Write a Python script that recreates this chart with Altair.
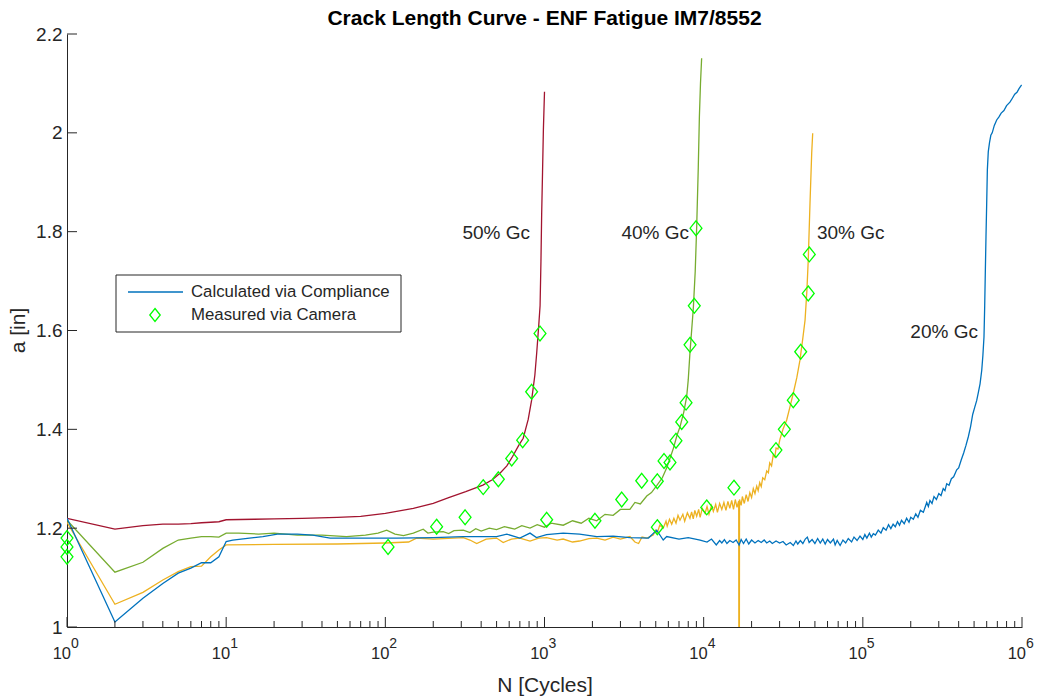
import altair as alt
import pandas as pd

# ---------------- data ----------------
RED_N = [1, 2, 3, 4, 5, 6, 7, 8, 9, 10, 15, 20, 30, 50, 70, 100, 150, 200, 250, 320, 410, 470, 525, 580,
         630, 690, 735, 790, 830, 870, 893, 920, 938, 950, 960, 972, 984, 1000]
RED_A = [1.220, 1.198, 1.205, 1.208, 1.208, 1.209, 1.211, 1.212, 1.213, 1.217, 1.218, 1.219, 1.220, 1.222,
         1.224, 1.230, 1.240, 1.250, 1.262, 1.274, 1.287, 1.298, 1.311, 1.326, 1.345, 1.368, 1.382, 1.420,
         1.459, 1.510, 1.554, 1.610, 1.650, 1.740, 1.837, 1.920, 2.006, 2.083]

GREEN_N = [1, 2, 3, 4, 5, 6, 7, 8, 9, 10, 12, 16, 20, 28, 40, 57, 75, 90, 102, 115, 130, 150, 173, 185,
           200, 231, 250, 270, 309, 340, 370, 400, 450, 500, 560, 650, 720, 811, 900, 1000, 1100, 1312,
           1500, 1700, 1900, 2128, 2400, 2700, 3000, 3440, 3700, 4000, 4390, 4700, 5070, 5500, 5860, 6200,
           6460, 6800, 7100, 7500, 7820, 8000, 8200, 8610, 8850, 9040, 9250, 9400, 9550, 9710]
GREEN_A = [1.216, 1.111, 1.131, 1.159, 1.176, 1.180, 1.183, 1.183, 1.182, 1.190, 1.190, 1.188, 1.190,
           1.186, 1.186, 1.183, 1.186, 1.190, 1.196, 1.188, 1.185, 1.190, 1.198, 1.190, 1.192, 1.193,
           1.189, 1.195, 1.196, 1.191, 1.199, 1.194, 1.200, 1.197, 1.203, 1.198, 1.205, 1.200, 1.207,
           1.202, 1.210, 1.206, 1.215, 1.210, 1.220, 1.215, 1.228, 1.226, 1.238, 1.238, 1.252, 1.249,
           1.265, 1.272, 1.286, 1.302, 1.322, 1.345, 1.362, 1.388, 1.405, 1.435, 1.466, 1.500, 1.555,
           1.645, 1.720, 1.810, 1.930, 2.033, 2.100, 2.151]

ORANGE_N = [1, 2, 3, 4, 5, 6, 7, 8, 9, 10, 20, 50, 100, 140, 157, 200, 309, 340, 375, 430, 500, 550, 620,
            700, 811, 920, 1030, 1200, 1310, 1500, 1660, 1900, 2130, 2400, 2700, 3000, 3440, 3700, 3900,
            4100, 4400, 4820, 5000, 5100, 5300, 5570, 5800, 5900, 6100, 6300, 6500, 6700, 6900, 7100, 7400,
            7600, 7900, 8200, 8400, 8600, 8800, 9040, 9300, 9500, 9800, 10200, 10500, 10800, 11200, 11500,
            11900, 12200, 12600, 13000, 13400, 13800, 14200, 14600, 15000, 15400, 15800, 16200, 16600,
            16700, 16800, 17200, 17500, 18000, 18500, 19000, 19500, 20000, 20500, 21000, 21540, 22000,
            22500, 23000, 23500, 24200, 24900, 25500, 26000, 26700, 27350, 28000, 28500, 29300, 30150,
            31500, 33240, 35000, 36560, 38500, 40270, 42000, 43350, 44500, 45410, 46560, 47730, 48420]
ORANGE_A = [1.212, 1.046, 1.070, 1.095, 1.112, 1.122, 1.123, 1.142, 1.156, 1.166, 1.167, 1.168, 1.170,
            1.172, 1.180, 1.178, 1.181, 1.176, 1.169, 1.178, 1.180, 1.171, 1.178, 1.180, 1.174, 1.180,
            1.181, 1.176, 1.178, 1.172, 1.174, 1.179, 1.180, 1.176, 1.182, 1.178, 1.183, 1.172, 1.169,
            1.182, 1.180, 1.186, 1.196, 1.190, 1.206, 1.200, 1.214, 1.204, 1.218, 1.208, 1.220, 1.210,
            1.226, 1.216, 1.228, 1.214, 1.231, 1.220, 1.233, 1.219, 1.236, 1.224, 1.238, 1.222, 1.240,
            1.230, 1.244, 1.228, 1.246, 1.234, 1.248, 1.232, 1.250, 1.238, 1.252, 1.236, 1.254, 1.240,
            1.256, 1.238, 1.258, 1.242, 1.255, 0.500, 1.258, 1.246, 1.264, 1.250, 1.268, 1.254, 1.272,
            1.262, 1.280, 1.270, 1.285, 1.276, 1.292, 1.284, 1.302, 1.298, 1.316, 1.312, 1.332, 1.326,
            1.348, 1.344, 1.362, 1.360, 1.380, 1.400, 1.419, 1.448, 1.473, 1.505, 1.540, 1.585, 1.621,
            1.680, 1.743, 1.857, 1.959, 1.999]

BLUE_N = [1, 2, 3, 4, 5, 6, 7, 8, 9, 10, 11, 14, 17, 21, 28, 35, 45, 72, 118, 200, 309, 500, 580, 700,
          811, 890, 1030, 1310, 1660, 2130, 2700, 3440, 4500, 5070, 5570, 5860, 7000, 8000, 9500,
          10500, 11200, 12000, 12600, 13000, 13500, 14000, 14600, 15300, 16000, 16700, 17200, 17800,
          18500, 19200, 20000, 21000, 22000, 23000, 24000, 24900, 26000, 27000, 28500, 30000, 31500,
          33000, 35000, 36600, 38000, 39000, 40500, 42000, 43500, 44800, 46000, 48000, 50000, 52000,
          54000, 56000, 58000, 60000, 62500, 65400, 67000, 69000, 72000, 75000, 78000, 81000, 85000,
          88000, 92000, 96000, 100000, 103000, 106000, 110000, 113000, 116400, 120000, 125000, 130000,
          134400, 140000, 145000, 150000, 155000, 160000, 165000, 170000, 175000, 182000, 188400,
          195000, 200000, 207700, 215000, 222000, 230000, 240000, 252000, 258000, 264000, 272000,
          280000, 290000, 300000, 310000, 320000, 328000, 336500, 348000, 360000, 372000, 388800,
          400000, 415000, 430000, 445000, 460000, 475000, 490000, 505000, 519000, 532000, 545000,
          558800, 568000, 577000, 583000, 588500, 594000, 600000, 605800, 614000, 625000, 637000,
          650000, 670000, 693400, 715000, 740000, 770000, 800000, 840000, 870000, 900000, 930000,
          960000, 995000]
BLUE_A = [1.220, 1.010, 1.058, 1.088, 1.109, 1.119, 1.130, 1.130, 1.142, 1.173, 1.176, 1.180, 1.183,
          1.188, 1.188, 1.186, 1.180, 1.180, 1.180, 1.181, 1.183, 1.183, 1.188, 1.180, 1.190, 1.181,
          1.187, 1.190, 1.188, 1.183, 1.184, 1.181, 1.180, 1.196, 1.176, 1.183, 1.178, 1.181, 1.176,
          1.172, 1.178, 1.166, 1.175, 1.170, 1.177, 1.169, 1.175, 1.171, 1.176, 1.166, 1.177, 1.169,
          1.178, 1.168, 1.176, 1.170, 1.175, 1.171, 1.176, 1.170, 1.174, 1.169, 1.174, 1.170, 1.173,
          1.166, 1.171, 1.165, 1.174, 1.168, 1.175, 1.169, 1.178, 1.182, 1.171, 1.177, 1.169, 1.179,
          1.170, 1.178, 1.168, 1.177, 1.170, 1.178, 1.166, 1.175, 1.165, 1.176, 1.170, 1.179, 1.172,
          1.182, 1.175, 1.184, 1.177, 1.187, 1.180, 1.190, 1.182, 1.189, 1.186, 1.196, 1.190,
          1.201, 1.196, 1.207, 1.199, 1.208, 1.203, 1.213, 1.206, 1.216, 1.209, 1.220,
          1.212, 1.222, 1.218, 1.229, 1.222, 1.236, 1.232, 1.252, 1.244, 1.256, 1.250,
          1.264, 1.258, 1.270, 1.266, 1.280, 1.276, 1.290, 1.287, 1.300, 1.304, 1.318,
          1.322, 1.338, 1.352, 1.368, 1.385, 1.405, 1.430, 1.445, 1.458, 1.475, 1.492,
          1.520, 1.550, 1.587, 1.650, 1.722, 1.790, 1.857, 1.925, 1.962, 1.980, 1.995,
          2.000, 2.015, 2.026, 2.032, 2.040, 2.045, 2.055, 2.062, 2.070, 2.078, 2.082,
          2.090, 2.097]

CAM_N = [1, 1, 1, 104, 210, 317, 412, 513, 622, 729, 830, 937, 1032, 2075, 3055, 4080, 5115, 5115, 5635,
         6144, 6700, 7280, 7750, 8210, 8730, 8950, 10450, 15500, 28450, 32120, 36560, 40700, 45400, 46100]
CAM_A = [1.180, 1.162, 1.142, 1.162, 1.203, 1.222, 1.283, 1.299, 1.341, 1.378, 1.476, 1.594, 1.217, 1.215,
         1.258, 1.296, 1.295, 1.202, 1.336, 1.333, 1.377, 1.415, 1.454, 1.571, 1.650, 1.807, 1.242, 1.282,
         1.358, 1.400, 1.459, 1.557, 1.675, 1.754]

SERIES = ["50% Gc", "40% Gc", "30% Gc", "20% Gc"]
COLORS = ["#A2142F", "#77AC30", "#EDB120", "#0072BD"]

LABEL_TEXT = ["50% Gc", "40% Gc", "30% Gc", "20% Gc"]
LABEL_N = [811, 8090, 51500, 528500]
LABEL_A = [1.797, 1.797, 1.797, 1.597]
LABEL_ALIGN = ["right", "right", "left", "right"]

X_MAJOR = [1, 10, 100, 1000, 10000, 100000, 1000000]
X_BASE = ["10"] * 7
X_EXP = ["0", "1", "2", "3", "4", "5", "6"]
X_MINOR = [m * 10 ** k for k in range(6) for m in range(2, 10)]
Y_TICKS = [1.0, 1.2, 1.4, 1.6, 1.8, 2.0, 2.2]

LEGEND_LABELS = ["Calculated via Compliance", "Measured via Camera"]

TITLE = "Crack Length Curve - ENF Fatigue IM7/8552"
X_TITLE = "N [Cycles]"
Y_TITLE = "a [in]"

# ---------------- build tables ----------------
rows = []
for name, ns, av in zip(SERIES, [RED_N, GREEN_N, ORANGE_N, BLUE_N], [RED_A, GREEN_A, ORANGE_A, BLUE_A]):
    for n, a in zip(ns, av):
        rows.append({"series": name, "N": n, "a": a})
lines_df = pd.DataFrame(rows)
cam_df = pd.DataFrame({"N": CAM_N, "a": CAM_A})
lab_df = pd.DataFrame({"text": LABEL_TEXT, "N": LABEL_N, "a": LABEL_A, "align": LABEL_ALIGN})
xlab_df = pd.DataFrame({"v": X_MAJOR, "base": X_BASE, "exp": X_EXP})

W, H = 955, 593
FONT = "Liberation Sans"
INK = "#262626"

xscale = alt.Scale(type="log", domain=[1, 1000000], nice=False)
yscale = alt.Scale(domain=[1, 2.2], nice=False, zero=False)

xaxis = alt.Axis(values=X_MAJOR, ticks=False, tickSize=0, grid=False, domainColor=INK, labels=False,
                 titleFontSize=21, titleFontWeight="normal", titleColor=INK, titleFont=FONT,
                 titleX=W / 2, titleY=58, titleBaseline="middle")
yaxis = alt.Axis(values=Y_TICKS, ticks=False, tickSize=0, grid=False, domainColor=INK, format=".1~f",
                 labelFontSize=19, labelColor=INK, labelPadding=5, labelFont=FONT,
                 titleFontSize=21, titleFontWeight="normal", titleColor=INK, titleFont=FONT,
                 titleX=-49, titleY=296, titleAngle=270, titleBaseline="middle", labelFlush=False)


def X(field):
    return alt.X(field, type="quantitative", scale=xscale, axis=xaxis, title=X_TITLE)


def Y(field):
    return alt.Y(field, type="quantitative", scale=yscale, axis=yaxis, title=Y_TITLE)


lines = alt.Chart(lines_df).mark_line(strokeWidth=1.3, clip=True).encode(
    x=X("N"), y=Y("a"),
    color=alt.Color("series:N", scale=alt.Scale(domain=SERIES, range=COLORS), legend=None),
    detail="series:N",
)

diamond = "M0,-1L0.8,0L0,1L-0.8,0Z"
markers = alt.Chart(cam_df).mark_point(shape=diamond, size=220, filled=False, stroke="#00FF00",
                                       strokeWidth=1.3, opacity=1).encode(x=X("N"), y=Y("a"))

lab_layers = []
for al in ["left", "right"]:
    sub = lab_df[lab_df["align"] == al]
    lab_layers.append(
        alt.Chart(sub).mark_text(fontSize=19, font=FONT, color=INK, baseline="middle", align=al).encode(
            x=X("N"), y=Y("a"), text="text:N"))

# x tick labels 10^k (base and raised exponent)
xl_base = alt.Chart(xlab_df).mark_text(fontSize=16.5, font=FONT, color=INK, align="right",
                                       baseline="middle", dx=4).encode(
    x=X("v"), y=alt.value(H + 27), text="base:N")
xl_exp = alt.Chart(xlab_df).mark_text(fontSize=14, font=FONT, color=INK, align="left",
                                      baseline="middle", dx=4).encode(
    x=X("v"), y=alt.value(H + 17), text="exp:N")

xmaj = alt.Chart(pd.DataFrame({"v": X_MAJOR})).mark_rule(color=INK, strokeWidth=1).encode(
    x=X("v"), y=alt.value(H), y2=alt.value(H - 10))
xmin = alt.Chart(pd.DataFrame({"v": X_MINOR})).mark_rule(color=INK, strokeWidth=1).encode(
    x=X("v"), y=alt.value(H), y2=alt.value(H - 6))
ytk = alt.Chart(pd.DataFrame({"v": Y_TICKS})).mark_rule(color=INK, strokeWidth=1).encode(
    y=Y("v"), x=alt.value(0), x2=alt.value(10))

# legend (box, line sample, diamond, texts)
leg_box = alt.Chart(pd.DataFrame({"label": [LEGEND_LABELS[0]]})).mark_rect(
    fill="white", stroke=INK, strokeWidth=1).encode(
    x=alt.value(49), x2=alt.value(334), y=alt.value(241), y2=alt.value(298))
leg_line = alt.Chart(pd.DataFrame({"label": [LEGEND_LABELS[0]]})).mark_rule(
    color="#0072BD", strokeWidth=1.3).encode(
    x=alt.value(61), x2=alt.value(116), y=alt.value(258))
leg_pt = alt.Chart(pd.DataFrame({"label": [LEGEND_LABELS[1]]})).mark_point(
    shape=diamond, size=170, filled=False, stroke="#00FF00", strokeWidth=1.3, opacity=1).encode(
    x=alt.value(88), y=alt.value(281))
leg_t1 = alt.Chart(pd.DataFrame({"label": [LEGEND_LABELS[0]]})).mark_text(
    fontSize=16.8, font=FONT, color=INK, align="left", baseline="middle").encode(
    x=alt.value(124), y=alt.value(258), text="label:N")
leg_t2 = alt.Chart(pd.DataFrame({"label": [LEGEND_LABELS[1]]})).mark_text(
    fontSize=16.8, font=FONT, color=INK, align="left", baseline="middle").encode(
    x=alt.value(124), y=alt.value(281), text="label:N")

chart = alt.layer(
    lines, xmaj, xmin, ytk, markers, *lab_layers, xl_base, xl_exp,
    leg_box, leg_line, leg_pt, leg_t1, leg_t2
).properties(
    width=W, height=H,
    title=alt.TitleParams(TITLE, fontSize=21, fontWeight="bold", color="#000000", font=FONT,
                          anchor="middle", offset=-4),
    autosize=alt.AutoSizeParams(type="none"),
    padding={"left": 67, "top": 34, "right": 21, "bottom": 73},
).configure(font=FONT, background="white",
            view=alt.ViewConfig(stroke="transparent", strokeWidth=0))

chart.save("out.html", embed_options={"renderer": "svg", "actions": False})
